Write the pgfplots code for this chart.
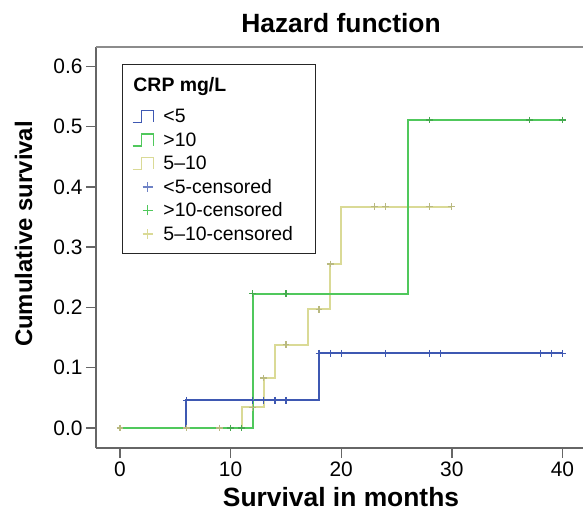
\documentclass[border=0pt]{standalone}
\usepackage{fontspec}
\setmainfont{Liberation Sans}
\usepackage{pgfplots}
\pgfplotsset{compat=1.18}
\definecolor{cblue}{RGB}{62,88,178}
\definecolor{cgreen}{RGB}{80,200,92}
\definecolor{ckhaki}{RGB}{218,218,150}
\newcommand{\E}[1]{\rule[-5.5bp]{0pt}{23.5bp}#1}
\pgfplotsset{
 stepleg/.style={legend image code/.code={\draw[##1] (0bp,-6bp) -- (9bp,-6bp) -- (9bp,6bp) -- (21bp,6bp) -- (21bp,-6bp);}},
 censleg/.style={legend image code/.code={\path (0bp,0bp) (21bp,0bp); \draw[##1] (10bp,0bp) -- (20bp,0bp) (15bp,-5bp) -- (15bp,5bp);}},
}
\begin{document}
\begin{tikzpicture}
\path[use as bounding box] (0,0) rectangle (583bp,514bp);
\begin{axis}[
 at={(96bp,66bp)}, anchor=south west,
 scale only axis, width=487bp, height=401bp,
 xmin=-2.17, xmax=41.86, ymin=-0.0332, ymax=0.632,
 axis lines=left,
 axis line style={-, draw=black!60, line width=1.4bp},
 xtick={0,10,20,30,40},
 ytick={0,0.1,0.2,0.3,0.4,0.5,0.6},
 tick align=outside, major tick length=10bp,
 tick style={draw=black!60, line width=1.4bp},
 y tick label style={/pgf/number format/fixed, /pgf/number format/fixed zerofill, /pgf/number format/precision=1},
 tick label style={font=\fontsize{21}{24}\selectfont},
 /pgf/number format/assume math mode=true,
 legend cell align=left,
 legend style={at={(0.0534,0.9576)}, anchor=north west, draw=black!85, line width=1.3bp,
   inner xsep=9bp, inner ysep=8bp, column sep=9bp, row sep=0bp,
   nodes={inner sep=0bp, text depth=, text height=}, font=\fontsize{19.5}{22}\selectfont},
]
% step curves
\addplot[const plot, draw=ckhaki, line width=2bp, forget plot] coordinates {
 (0,0) (11,0.034) (13,0.083) (14,0.138) (17,0.197) (19,0.272) (20,0.367) (30,0.367)};
\addplot[const plot, draw=cblue, line width=2bp, forget plot] coordinates {
 (0,0) (6,0.046) (18,0.124) (40,0.124)};
\addplot[const plot, draw=cgreen, line width=2bp, forget plot] coordinates {
 (0,0) (12,0.223) (26,0.511) (40,0.511)};
% censored marks
\addplot[only marks, mark=+, mark size=3.4bp, mark options={draw=ckhaki!85!black, line width=1.3bp}, forget plot] coordinates {
 (0,0) (6,0) (9,0) (12,0.034) (13,0.083) (15,0.138) (18,0.197) (19,0.272) (23,0.367) (24,0.367) (28,0.367) (30,0.367)};
\addplot[only marks, mark=+, mark size=3.4bp, mark options={draw=cblue, line width=1.3bp}, forget plot] coordinates {
 (6,0.046) (12,0.046) (13,0.046) (14,0.046) (15,0.046) (18,0.124) (19,0.124) (20,0.124) (24,0.124) (28,0.124) (29,0.124) (38,0.124) (39,0.124) (40,0.124)};
\addplot[only marks, mark=+, mark size=3.4bp, mark options={draw=cgreen!85!black, line width=1.3bp}, forget plot] coordinates {
 (10,0) (11,0) (12,0.223) (15,0.223) (28,0.511) (37,0.511) (40,0.511)};
% top frame line
\draw[black!45, line width=1.2bp] (rel axis cs:0,1) -- (rel axis cs:1,1);
% legend
\addlegendimage{empty legend}
\addlegendentry{\hspace{-30bp}\rule[-13bp]{0pt}{32bp}\textbf{CRP mg/L}}
\addlegendimage{draw=cblue, line width=1.8bp, stepleg}
\addlegendentry{\E{<5}}
\addlegendimage{draw=cgreen, line width=1.8bp, stepleg}
\addlegendentry{\E{>10}}
\addlegendimage{draw=ckhaki, line width=1.8bp, stepleg}
\addlegendentry{\E{5–10}}
\addlegendimage{draw=cblue!75, line width=1.3bp, censleg}
\addlegendentry{\E{<5-censored}}
\addlegendimage{draw=cgreen, line width=1.3bp, censleg}
\addlegendentry{\E{>10-censored}}
\addlegendimage{draw=ckhaki, line width=1.3bp, censleg}
\addlegendentry{\makebox[143bp][l]{\E{5–10-censored}}}
\end{axis}
\node[anchor=base, font=\fontsize{26.5}{30}\selectfont\bfseries] at (341bp,481bp) {Hazard function};
\node[anchor=base, font=\fontsize{26.5}{30}\selectfont\bfseries] at (341bp,8bp) {Survival in months};
\node[anchor=base, rotate=90, font=\fontsize{24}{28}\selectfont\bfseries] at (32bp,280bp) {Cumulative survival};
\end{tikzpicture}
\end{document}
